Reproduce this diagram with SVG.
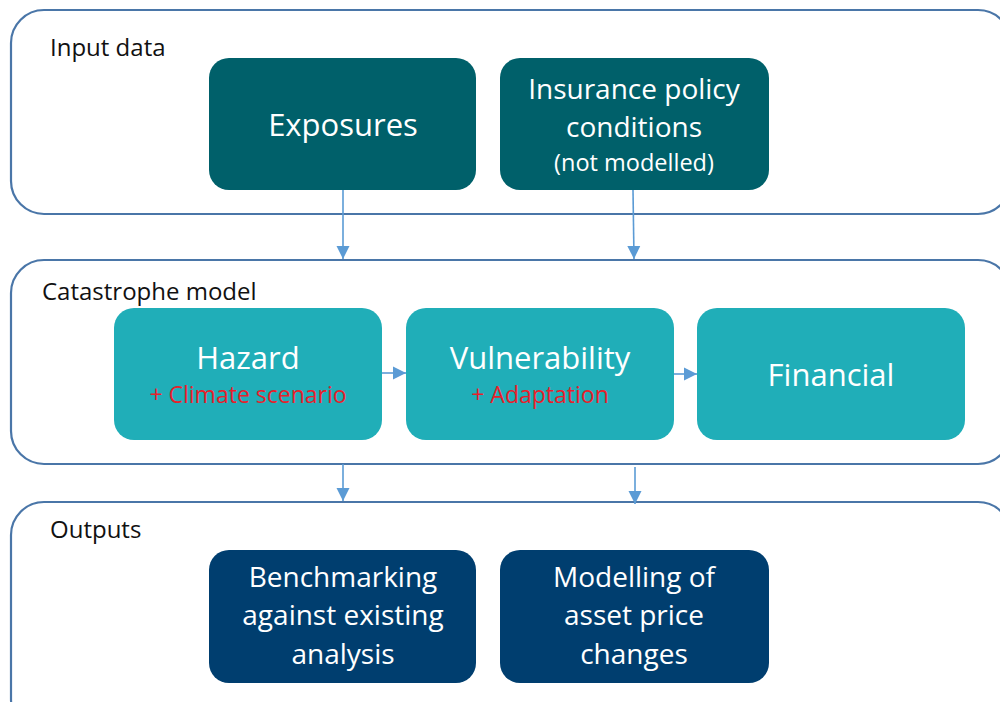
<svg xmlns="http://www.w3.org/2000/svg" width="1000" height="702" viewBox="0 0 1000 702">
<style>
.panel{fill:#fff;stroke:#4a76a8;stroke-width:2.2}
.t{font-family:"Open Sans","Liberation Sans",sans-serif}
.lab{font-size:24px;fill:#111}
.w{fill:#fff;text-anchor:middle}
.big{font-size:31px}
.mid{font-size:28px}
.sm{font-size:23.5px}
.red{fill:#e8202a;font-size:23px;text-anchor:middle}
.dark{fill:#00606a}
.light{fill:#20aeb8}
.navy{fill:#003e6f}
.conn{stroke:#5b9bd5;stroke-width:1.6;fill:none;marker-end:url(#ah)}
</style>
<defs>
<marker id="ah" viewBox="0 0 10 10" refX="10" refY="5" markerWidth="13" markerHeight="14" markerUnits="userSpaceOnUse" orient="auto">
<path d="M0,0 L10,5 L0,10 z" fill="#5b9bd5"/>
</marker>
</defs>
<g id="panel-input">
<rect class="panel" x="11" y="10" width="1000" height="204" rx="33"/>
<text class="t lab" x="50" y="56">Input data</text>
</g>
<g id="panel-model">
<rect class="panel" x="11" y="260" width="1000" height="204" rx="33"/>
<text class="t lab" x="42" y="300">Catastrophe model</text>
</g>
<g id="panel-outputs">
<rect class="panel" x="11" y="502" width="1000" height="230" rx="33"/>
<text class="t lab" x="50" y="538">Outputs</text>
</g>
<g id="exposures">
<rect class="dark" x="209" y="58" width="267" height="132" rx="20"/>
<text class="t w big" x="343" y="136">Exposures</text>
</g>
<g id="insurance">
<rect class="dark" x="500" y="58" width="269" height="132" rx="20"/>
<text class="t w mid" x="634" y="99">Insurance policy</text>
<text class="t w mid" x="634" y="137">conditions</text>
<text class="t w sm" x="634" y="171">(not modelled)</text>
</g>
<g id="hazard">
<rect class="light" x="114" y="308" width="268" height="132" rx="20"/>
<text class="t w big" x="248" y="369">Hazard</text>
<text class="t red" x="248" y="403">+ Climate scenario</text>
</g>
<g id="vulnerability">
<rect class="light" x="406" y="308" width="268" height="132" rx="20"/>
<text class="t w big" x="540" y="369">Vulnerability</text>
<text class="t red" x="540" y="403">+ Adaptation</text>
</g>
<g id="financial">
<rect class="light" x="697" y="308" width="268" height="132" rx="20"/>
<text class="t w big" x="831" y="386">Financial</text>
</g>
<g id="benchmarking">
<rect class="navy" x="209" y="550" width="267" height="133" rx="20"/>
<text class="t w mid" x="343" y="587">Benchmarking</text>
<text class="t w mid" x="343" y="625">against existing</text>
<text class="t w mid" x="343" y="664">analysis</text>
</g>
<g id="modelling">
<rect class="navy" x="500" y="550" width="269" height="133" rx="20"/>
<text class="t w mid" x="634" y="587">Modelling of</text>
<text class="t w mid" x="634" y="625">asset price</text>
<text class="t w mid" x="634" y="664">changes</text>
</g>
<g id="connectors">
<path class="conn" d="M343,190 L343,259"/>
<path class="conn" d="M633,190 L634,259"/>
<path class="conn" d="M382,373 L406,373"/>
<path class="conn" d="M674,374 L697,374"/>
<path class="conn" d="M343,464 L343,501"/>
<path class="conn" d="M635,467 L635,504"/>
</g>
</svg>
